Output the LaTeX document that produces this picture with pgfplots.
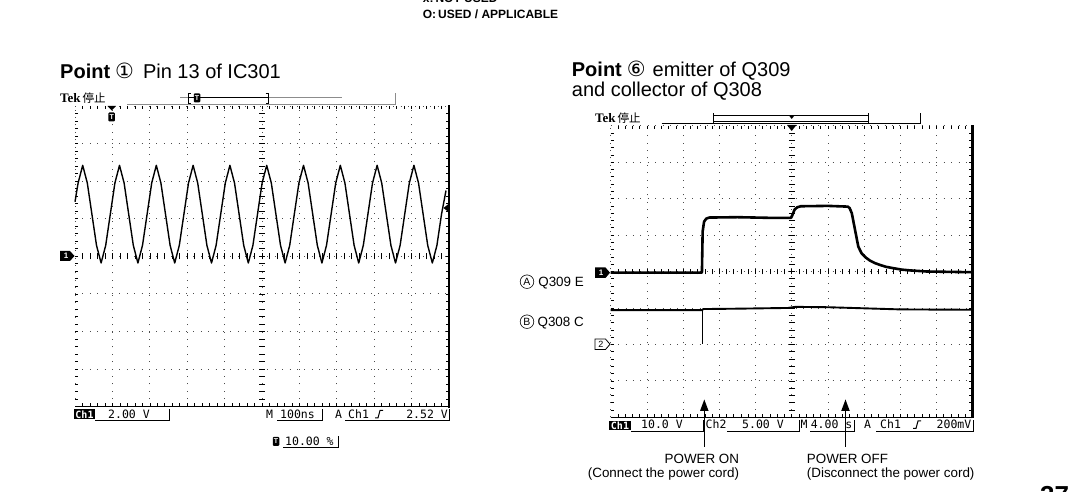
\documentclass[border=0pt]{standalone}
\usepackage{pgfplots}
\pgfplotsset{compat=1.18}
\usepackage{fontspec}
\setmainfont{Liberation Sans}
\newfontfamily\dejavu{DejaVu Sans}
\newfontfamily\mono{DejaVu Sans Mono}
\newfontfamily\tekfont{Liberation Serif}
\newfontfamily\cjk{Noto Sans CJK JP}
\newcommand\fs[1]{\fontsize{#1bp}{#1bp}\selectfont}
\pgfplotsset{scopeaxis/.style={scale only axis, anchor=south west, clip=false,
  xmin=0,xmax=10,ymin=-4,ymax=4, xtick={0,...,10}, ytick={-4,...,4},
  xticklabels={}, yticklabels={}, major tick length=0pt, tick style={draw=none},
  grid=major, major grid style={draw=black!70, line width=0.8bp, dash pattern=on 0.9bp off 6.5bp},
  axis line style={draw=none}}}
\newcommand\scopedeco{%
 \draw[line width=0.8bp] (axis cs:0,-4) -- (axis cs:10,-4);
 \draw[line width=2.6bp] (axis cs:10,-4.03) -- (axis cs:10,4.02);
 \pgfplotsinvokeforeach{0.2,0.4,...,9.8}{\draw[line width=0.6bp] (axis cs:##1,-0.08) -- (axis cs:##1,0.08) (axis cs:##1,4) -- (axis cs:##1,3.91) (axis cs:##1,-4) -- (axis cs:##1,-3.91);}
 \pgfplotsinvokeforeach{-3.8,-3.6,...,3.8}{\draw[line width=0.6bp] (axis cs:4.92,##1) -- (axis cs:5.08,##1) (axis cs:0,##1) -- (axis cs:0.09,##1) (axis cs:10,##1) -- (axis cs:9.91,##1);}
}
\newcommand\Ticon[1]{\node[fill=black, rounded corners=1bp, inner sep=0pt, text=white, font=\fs{7}\bfseries, minimum width=6.5bp, minimum height=9bp] at #1 {T};}
\begin{document}
\begin{tikzpicture}
\path[use as bounding box] (0,0) rectangle (1073bp,492bp);
% ---------- left scope ----------
\begin{axis}[scopeaxis, at={(75bp,85.5bp)}, width=374bp, height=300.5bp]
\addplot[black, line width=1.4bp, line join=round] coordinates {
(0,1.45) (0.083,1.95) (0.206,2.42) (0.329,1.95) (0.452,1.12) (0.575,0.29) (0.698,-0.18) (0.821,0.29) (0.944,1.12) (1.067,1.95)
(1.190,2.42) (1.313,1.95) (1.436,1.12) (1.559,0.29) (1.682,-0.18) (1.805,0.29) (1.928,1.12) (2.051,1.95)
(2.174,2.42) (2.297,1.95) (2.420,1.12) (2.543,0.29) (2.666,-0.18) (2.789,0.29) (2.912,1.12) (3.035,1.95)
(3.158,2.42) (3.281,1.95) (3.404,1.12) (3.527,0.29) (3.650,-0.18) (3.773,0.29) (3.896,1.12) (4.019,1.95)
(4.142,2.42) (4.265,1.95) (4.388,1.12) (4.511,0.29) (4.634,-0.18) (4.757,0.29) (4.880,1.12) (5.003,1.95)
(5.126,2.42) (5.249,1.95) (5.372,1.12) (5.495,0.29) (5.618,-0.18) (5.741,0.29) (5.864,1.12) (5.987,1.95)
(6.110,2.42) (6.233,1.95) (6.356,1.12) (6.479,0.29) (6.602,-0.18) (6.725,0.29) (6.848,1.12) (6.971,1.95)
(7.094,2.42) (7.217,1.95) (7.340,1.12) (7.463,0.29) (7.586,-0.18) (7.709,0.29) (7.832,1.12) (7.955,1.95)
(8.078,2.42) (8.201,1.95) (8.324,1.12) (8.447,0.29) (8.570,-0.18) (8.693,0.29) (8.816,1.12) (8.939,1.95)
(9.062,2.42) (9.185,1.95) (9.308,1.12) (9.431,0.29) (9.554,-0.18) (9.677,0.29) (9.800,1.12) (9.920,1.75)
};
\scopedeco
\end{axis}
% ---------- right scope ----------
\begin{axis}[scopeaxis, at={(610.7bp,74.7bp)}, width=362bp, height=291.6bp]
\addplot[black, line width=2.6bp, line join=round] coordinates {
(0,-0.03) (2.52,-0.03) (2.54,1.10) (2.58,1.37) (2.64,1.45) (2.72,1.48) (3.5,1.49) (4.5,1.47) (4.98,1.47)
(5.02,1.55) (5.08,1.70) (5.15,1.76) (5.25,1.79) (6.0,1.80) (6.55,1.78) (6.60,1.74) (6.66,1.60) (6.75,1.14)
(6.84,0.68) (6.93,0.50) (7.05,0.38) (7.16,0.30) (7.30,0.23) (7.44,0.18) (7.60,0.13) (7.81,0.09) (8.05,0.05)
(8.27,0.03) (8.73,0.0) (10,-0.02)
};
\addplot[black, line width=1.9bp, line join=round] coordinates {
(0,-1.06) (2.52,-1.06) (2.56,-1.03) (3.5,-1.02) (4.9,-1.0) (5.1,-0.97) (6.0,-0.98) (7.0,-1.01) (8.0,-1.04) (10,-1.05)
};
\addplot[black, line width=1bp] coordinates {(2.53,-1.03) (2.53,-2.0)};
\scopedeco
\end{axis}
% ---------- annotations in pixel coordinates ----------
\begin{scope}[x=1bp,y=-1bp,shift={(0,492bp)}]
% header
\node[anchor=base west, inner sep=0pt, font=\fs{12}\bfseries] at (422.7,3) {x:\,NOT USED};
\node[anchor=base west, inner sep=0pt, font=\fs{12}\bfseries] at (422.7,18.3) {O:\,USED / APPLICABLE};
% titles
\node[anchor=base west, inner sep=0pt, font=\fs{20}] at (60,79) {\textbf{Point}\hspace{5bp}{\dejavu\fs{21}①}\hspace{9bp}Pin 13 of IC301};
\node[anchor=base west, inner sep=0pt, font=\fs{20}] at (571.7,77) {\textbf{Point}\hspace{5bp}{\dejavu\fs{21}⑥}\hspace{7bp}emitter of Q309};
\node[anchor=base west, inner sep=0pt, font=\fs{20}] at (571.7,97) {and collector of Q308};
% left top bar
\node[anchor=west, inner sep=0pt] at (60,98) {{\tekfont\bfseries\fs{13}Tek}\hspace{2bp}{\cjk\fs{11.5}停止}};
\draw[black!45, line width=0.9bp] (127,104) -- (395,104) -- (395,92.7);
\draw[black!45, line width=0.9bp] (180,97.3) -- (342,97.3);
\draw[black, line width=0.9bp] (190.5,93) -- (188,93) -- (188,103) -- (190.5,103);
\draw[black, line width=0.9bp] (265.5,93) -- (268,93) -- (268,103) -- (265.5,103);
\draw[black, line width=0.9bp] (188,97.3) -- (268,97.3);
\Ticon{(197,98)}
\fill (107.5,106) -- (116,106) -- (111.7,110.5) -- cycle;
\Ticon{(111.7,117)}
% left markers
\fill (60,251) -- (70,251) -- (74.5,256) -- (70,261) -- (60,261) -- cycle;
\node[text=white, font=\fs{8}\bfseries, inner sep=0pt] at (66,256) {1};
\fill (443.5,208) -- (448.5,204) -- (448.5,212) -- cycle;
% left status bar
\fill (74,409.5) rectangle (95,419.5);
\node[text=white, font=\mono\bfseries\fs{10}, inner sep=0pt] at (84.5,414.5) {Ch1};
\node[anchor=base west, inner sep=0pt, font=\mono\fs{11.5}] at (108,418.5) {2.00 V};
\draw[line width=0.7bp] (95,420.5) -- (169,420.5) -- (169,409.5);
\node[anchor=base west, inner sep=0pt, font=\mono\fs{11.5}] at (266,418.5) {M};
\node[anchor=base west, inner sep=0pt, font=\mono\fs{11.5}] at (280,418.5) {100ns};
\draw[line width=0.7bp] (277,420.5) -- (322,420.5) -- (322,409.5);
\node[anchor=base west, inner sep=0pt, font=\mono\fs{11.5}] at (335,418.5) {A};
\node[anchor=base west, inner sep=0pt, font=\mono\fs{11.5}] at (348,418.5) {Ch1};
\draw[line width=1bp] (375,418) -- (378,418) -- (380,410.5) -- (383,410.5);
\node[anchor=base east, inner sep=0pt, font=\mono\fs{11.5}] at (448,418.5) {2.52 V};
\draw[line width=0.7bp] (345,420.5) -- (449,420.5) -- (449,409.5);
\Ticon{(276,441.5)}
\node[anchor=base west, inner sep=0pt, font=\mono\fs{11.5}] at (285,445.5) {10.00 \%};
\draw[line width=0.7bp] (283,447.5) -- (338,447.5) -- (338,436);
% right top bar
\node[anchor=west, inner sep=0pt] at (595,118.5) {{\tekfont\bfseries\fs{13}Tek}\hspace{2bp}{\cjk\fs{11.5}停止}};
\draw[black, line width=0.8bp] (661.7,123.3) -- (920.7,123.3) -- (920.7,113.3);
\draw[black, line width=0.8bp] (713.3,113.3) -- (713.3,124) (868.3,113.3) -- (868.3,124);
\draw[black, line width=0.7bp] (713.3,115.2) -- (868.3,115.2) (713.3,121.5) -- (868.3,121.5);
\fill (789,115.5) -- (794.5,115.5) -- (791.7,119) -- cycle;
\fill (787,125) -- (796.5,125) -- (791.7,131) -- cycle;
% right markers
\fill (595,267.5) -- (605.5,267.5) -- (610,272.7) -- (605.5,278) -- (595,278) -- cycle;
\node[text=white, font=\fs{8}\bfseries, inner sep=0pt] at (601,272.7) {1};
\draw[line width=0.8bp, fill=white] (595,339) -- (605.5,339) -- (610,344.3) -- (605.5,349.5) -- (595,349.5) -- cycle;
\node[font=\fs{9}, inner sep=0pt] at (601,344.3) {2};
% channel labels with circled letters
\draw[line width=0.6bp] (527,281.7) circle (6.8bp);
\node[font=\fs{10.5}, inner sep=0pt] at (527,281.9) {A};
\node[anchor=base east, inner sep=0pt, font=\fs{13.4}] at (584,286.5) {Q309 E};
\draw[line width=0.6bp] (527,321.7) circle (6.8bp);
\node[font=\fs{10.5}, inner sep=0pt] at (527,321.9) {B};
\node[anchor=base east, inner sep=0pt, font=\fs{13.4}] at (584,326.5) {Q308 C};
% right status bar
\fill (609,421) rectangle (631,430.5);
\node[text=white, font=\mono\bfseries\fs{10}, inner sep=0pt] at (620,425.8) {Ch1};
\node[anchor=base west, inner sep=0pt, font=\mono\fs{11.5}] at (641,429) {10.0 V};
\draw[line width=0.7bp] (631,431.5) -- (703,431.5) -- (703,420);
\node[anchor=base west, inner sep=0pt, font=\mono\fs{11.5}] at (705.5,429) {Ch2};
\node[anchor=base west, inner sep=0pt, font=\mono\fs{11.5}] at (742,429) {5.00 V};
\draw[line width=0.7bp] (727,431.5) -- (799,431.5) -- (799,420);
\node[anchor=base west, inner sep=0pt, font=\mono\fs{11.5}] at (800.5,429) {M};
\node[anchor=base east, inner sep=0pt, font=\mono\fs{11.5}] at (852.5,429) {4.00 s};
\draw[line width=0.7bp] (810,431.5) -- (854,431.5) -- (854,420);
\node[anchor=base west, inner sep=0pt, font=\mono\fs{11.5}] at (864,429) {A};
\node[anchor=base west, inner sep=0pt, font=\mono\fs{11.5}] at (880,429) {Ch1};
\draw[line width=1bp] (913,428.5) -- (916,428.5) -- (918,421) -- (921,421);
\node[anchor=base east, inner sep=0pt, font=\mono\fs{11.5}] at (971.5,429) {200mV};
\draw[line width=0.7bp] (876,431.5) -- (973,431.5) -- (973,420);
% arrows
\draw[line width=1bp] (704.3,447) -- (704.3,408);
\fill (704.3,399.5) -- (700,411) -- (708.6,411) -- cycle;
\draw[line width=1bp] (845.5,447) -- (845.5,408);
\fill (845.5,399.5) -- (841.2,411) -- (849.8,411) -- cycle;
\node[anchor=base east, inner sep=0pt, font=\fs{13.4}] at (739.3,464) {POWER ON};
\node[anchor=base east, inner sep=0pt, font=\fs{13.4}] at (739.3,478) {(Connect the power cord)};
\node[anchor=base west, inner sep=0pt, font=\fs{13.4}] at (806.7,464) {POWER OFF};
\node[anchor=base west, inner sep=0pt, font=\fs{13.4}] at (806.7,478) {(Disconnect the power cord)};
% page number
\node[anchor=base west, inner sep=0pt, font=\fs{26}\bfseries] at (1040,505) {37};
\end{scope}
\end{tikzpicture}
\end{document}
